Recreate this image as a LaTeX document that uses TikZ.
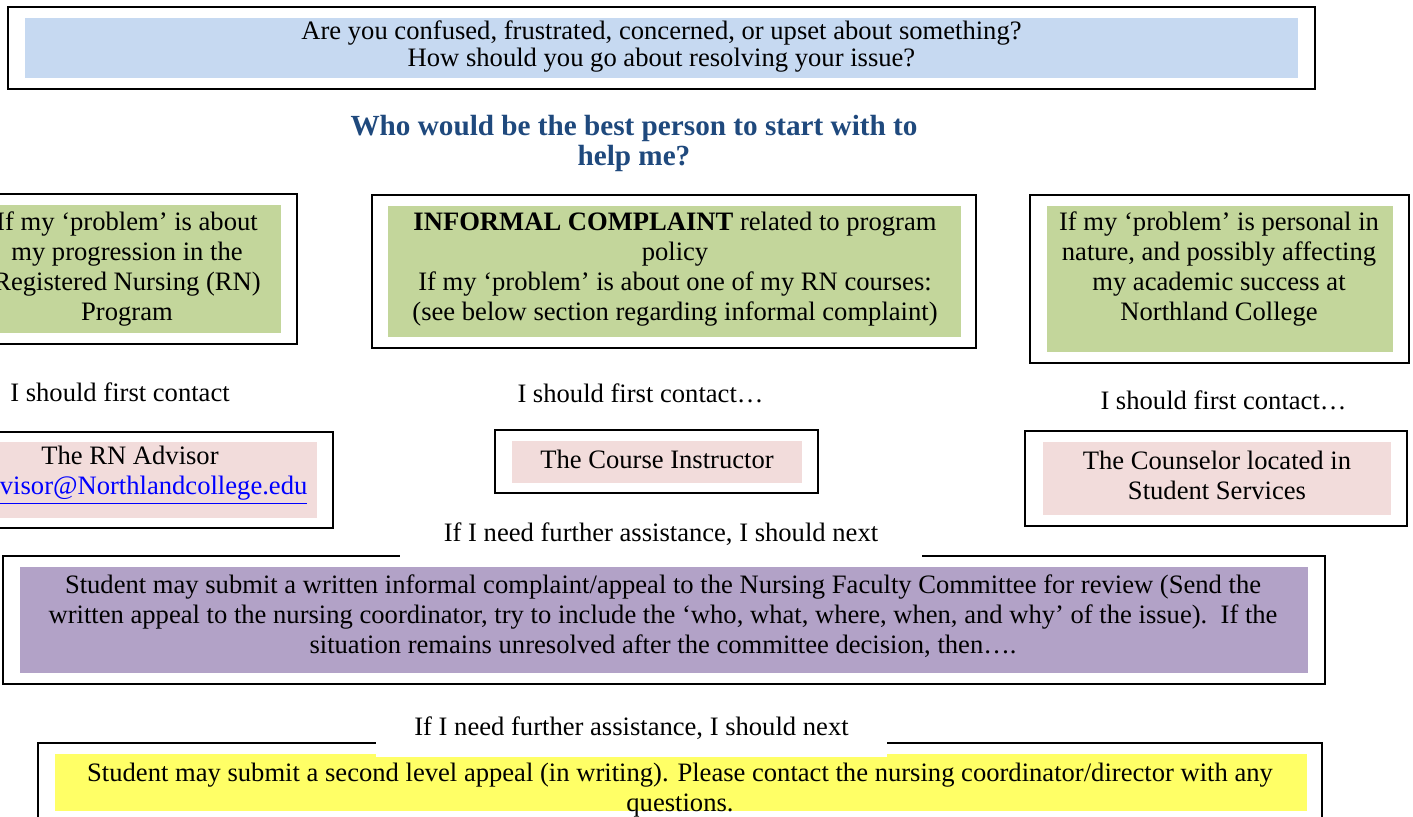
\documentclass[tikz,border=0pt]{standalone}
\usepackage{fontspec}
\setmainfont{Liberation Serif}
\usepackage{xcolor}
\usepackage{tikz}
\usetikzlibrary{positioning}
\definecolor{askblue}{HTML}{C6D9F1}
\definecolor{headblue}{HTML}{1F497D}
\definecolor{probgreen}{HTML}{C3D69B}
\definecolor{contactpink}{HTML}{F2DCDB}
\definecolor{appealpurple}{HTML}{B2A2C7}
\definecolor{appealyellow}{HTML}{FFFF66}
\definecolor{linkblue}{HTML}{0000FF}

\begin{document}
\begin{tikzpicture}[x=0.5pt, y=-0.5pt,
  frame/.style={draw=black, line width=1pt, inner sep=0pt},
  panel/.style={inner sep=0pt},
  txt/.style={align=center, inner sep=0pt, font=\fontsize{13.3}{15}\selectfont},
  gap/.style={fill=white, inner sep=0pt}]
\path[use as bounding box, clip] (0,0) rectangle (1413,817);

% Question at the top
\node[frame, minimum width=653.5pt, minimum height=41pt] (askFrame) at (661.5,48) {};
\node[panel, fill=askblue, minimum width=636.5pt, minimum height=30pt] (askFill) at (661.5,48) {};
\node[txt, font=\fontsize{13.3}{13.5}\selectfont] (askText) at (661.5,47)
  {Are you confused, frustrated, concerned, or upset about something?\\How should you go about resolving your issue?};
\node[txt, font=\bfseries\fontsize{14.6}{15}\selectfont, text=headblue] (who) at (634,143)
  {Who would be the best person to start with to\\help me?};

% Left column: progression
\node[frame, minimum width=170pt, minimum height=75pt] (progFrame) at (127,269) {};
\node[panel, fill=probgreen, minimum width=154pt, minimum height=64pt] (progFill) at (127,269) {};
\node[txt] (progText) at (127,269)
  {If my ‘problem’ is about\\my progression in the\\Registered Nursing (RN)\\Program};
\node[txt] (progFirst) at (120,392) {I should first contact};
\node[frame, minimum width=203pt, minimum height=48pt] (advFrame) at (130,480) {};
\node[panel, fill=contactpink, minimum width=187pt, minimum height=38pt] (advFill) at (130,480) {};
\node[txt] (advText) at (130,475.5)
  {The RN Advisor\\\textcolor{linkblue}{\underline{rnadvisor@Northlandcollege.edu}}};

% Middle column: courses
\node[frame, minimum width=302pt, minimum height=76.5pt] (courseFrame) at (674,271.5) {};
\node[panel, fill=probgreen, minimum width=286.5pt, minimum height=65.5pt] (courseFill) at (674.5,271.5) {};
\node[txt] (courseText) at (675,269)
  {\textbf{INFORMAL COMPLAINT} related to program\\policy\\If my ‘problem’ is about one of my RN courses:\\(see below section regarding informal complaint)};
\node[txt] (courseFirst) at (640.5,393) {I should first contact…};
\node[frame, minimum width=161.5pt, minimum height=31.5pt] (instrFrame) at (656.5,461.5) {};
\node[panel, fill=contactpink, minimum width=145pt, minimum height=21pt] (instrFill) at (657,462) {};
\node[txt] (instrText) at (657,459) {The Course Instructor};

% Right column: personal
\node[frame, minimum width=189.5pt, minimum height=84pt] (persFrame) at (1219.5,279) {};
\node[panel, fill=probgreen, minimum width=173pt, minimum height=73pt] (persFill) at (1220,279) {};
\node[txt] (persText) at (1219,269)
  {If my ‘problem’ is personal in\\nature, and possibly affecting\\my academic success at\\Northland College};
\node[txt] (persFirst) at (1223.5,400) {I should first contact…};
\node[frame, minimum width=191pt, minimum height=47.5pt] (counsFrame) at (1216,478.5) {};
\node[panel, fill=contactpink, minimum width=174pt, minimum height=36.5pt] (counsFill) at (1217,478.5) {};
\node[txt] (counsText) at (1217,475.5) {The Counselor located in\\Student Services};

% Committee appeal
\node[frame, minimum width=661pt, minimum height=64pt] (commFrame) at (664,620) {};
\node[panel, fill=appealpurple, minimum width=644pt, minimum height=53pt] (commFill) at (664,620) {};
\node[txt] (commText) at (663,616)
  {Student may submit a written informal complaint/appeal to the Nursing Faculty Committee for review (Send the\\written appeal to the nursing coordinator, try to include the ‘who, what, where, when, and why’ of the issue).\ \ If the\\situation remains unresolved after the committee decision, then….};
\node[txt, gap, minimum width=261pt, minimum height=25pt] (nextOne) at (661,534)
  {If I need further assistance, I should next};

% Second level appeal
\node[frame, minimum width=642pt, minimum height=45pt] (secFrame) at (680,788) {};
\node[panel, fill=appealyellow, minimum width=626pt, minimum height=28.5pt] (secFill) at (681,782.5) {};
\node[txt] (secText) at (680,790)
  {Student may submit a second level appeal (in writing). Please contact the nursing coordinator/director with any\\questions.};
\node[txt, gap, minimum width=255.5pt, minimum height=29pt] (nextTwo) at (631.5,728)
  {If I need further assistance, I should next};
\end{tikzpicture}
\end{document}
